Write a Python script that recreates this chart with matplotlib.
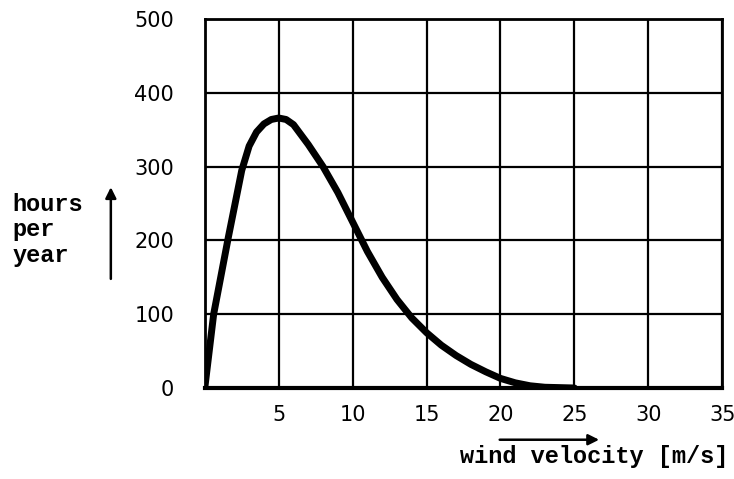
import numpy as np
import matplotlib.pyplot as plt

# wind velocity [m/s] and hours per year
v = [0, 0.6, 1.6, 2.5, 3.0, 3.5, 4.0, 4.5, 5.0, 5.5, 6.0, 7.0, 8.0,
     9.0, 10, 11, 12, 13, 14, 15, 16, 17, 18, 19, 20, 21, 22, 23, 24, 25]
hours = [0, 100, 205, 295, 328, 347, 358, 364, 366, 364, 357, 330, 300,
         265, 225, 185, 150, 120, 95, 75, 58, 44, 32, 22, 13, 7, 3, 1, 0.5, 0]

xticks = [5, 10, 15, 20, 25, 30, 35]
yticks = [0, 100, 200, 300, 400, 500]


def main():
    fig = plt.figure(figsize=(7.34, 4.79), dpi=100)
    ax = fig.add_axes([0.279, 0.19, 0.705, 0.77])

    ax.plot(v, hours, color='black', lw=5, solid_capstyle='round',
            solid_joinstyle='round', zorder=3)

    ax.set_xlim(0, 35)
    ax.set_ylim(0, 500)
    ax.set_xticks(xticks)
    ax.set_yticks(yticks)
    ax.grid(True, color='black', lw=1.6)
    for s in ax.spines.values():
        s.set_linewidth(2)
    ax.spines['bottom'].set_linewidth(3)
    ax.tick_params(length=0, labelsize=15, pad=12)
    ax.tick_params(axis='y', pad=22)
    for lab in ax.get_xticklabels() + ax.get_yticklabels():
        lab.set_fontweight('medium')

    mono = dict(family='Liberation Mono', fontsize=17, color='black',
                fontweight='bold')
    fig.text(0.017, 0.52, 'hours\nper\nyear', ha='left', va='center',
             linespacing=1.15, **mono)
    ax.annotate('', xy=(0.151, 0.615), xytext=(0.151, 0.412),
                xycoords='figure fraction',
                arrowprops=dict(arrowstyle='-|>', color='black', lw=1.8,
                                mutation_scale=16))

    fig.text(0.993, 0.048, 'wind velocity [m/s]', ha='right', va='center', **mono)
    ax.annotate('', xy=(0.82, 0.082), xytext=(0.677, 0.082),
                xycoords='figure fraction',
                arrowprops=dict(arrowstyle='-|>', color='black', lw=1.8,
                                mutation_scale=16))

    fig.savefig('out.png', dpi=100)


if __name__ == "__main__":
    main()
